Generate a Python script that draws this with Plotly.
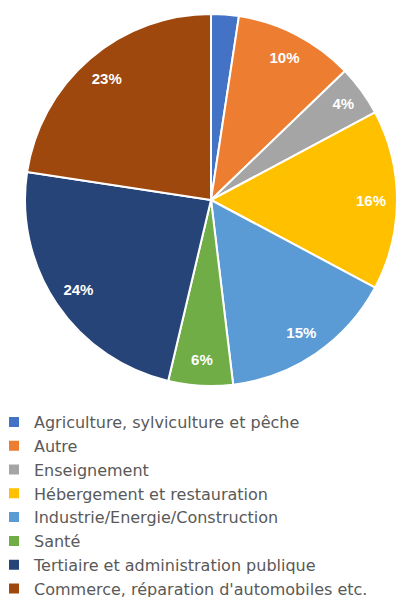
import plotly.graph_objects as go

categories = [
    "Agriculture, sylviculture et pêche",
    "Autre",
    "Enseignement",
    "Hébergement et restauration",
    "Industrie/Energie/Construction",
    "Santé",
    "Tertiaire et administration publique",
    "Commerce, réparation d'automobiles etc.",
]
values = [2.4, 10.4, 4.4, 15.6, 15.3, 5.6, 23.7, 22.6]
colors = ["#4472C4", "#ED7D31", "#A5A5A5", "#FFC000",
          "#5B9BD5", "#70AD47", "#264478", "#9E480E"]

total = sum(values)
labels_txt = [f"{round(v / total * 100)}%" if v / total >= 0.03 else "" for v in values]

W, H = 410, 597
dom_x = [25 / W, 397 / W]
dom_y = [(H - 386) / H, (H - 14) / H]

fig = go.Figure()
fig.add_trace(go.Pie(
    labels=categories, values=values, sort=False, direction="clockwise",
    rotation=0, marker=dict(colors=colors, line=dict(color="white", width=2)),
    textinfo="none", hoverinfo="label+percent", domain=dict(x=dom_x, y=dom_y),
    showlegend=True,
))
fig.add_trace(go.Pie(
    labels=categories, values=values, sort=False, direction="clockwise",
    rotation=0, hole=0.72,
    marker=dict(colors=["rgba(0,0,0,0)"] * len(values), line=dict(width=0)),
    text=labels_txt, textinfo="text", textposition="inside",
    insidetextorientation="horizontal",
    textfont=dict(family="Liberation Sans", size=15, color="white", weight="bold"),
    hoverinfo="skip", domain=dict(x=dom_x, y=dom_y), showlegend=False,
))

fig.update_layout(
    width=W, height=H,
    margin=dict(l=0, r=0, t=0, b=0, autoexpand=False),
    paper_bgcolor="white", plot_bgcolor="white",
    legend=dict(
        orientation="v", x=-6 / W, xanchor="left", y=(H - 405) / H, yanchor="top",
        font=dict(family="DejaVu Sans", size=16, color="#595959"),
        itemwidth=30, traceorder="normal", tracegroupgap=0,
        bgcolor="rgba(0,0,0,0)",
    ),
)
fig.write_html("out.html")
